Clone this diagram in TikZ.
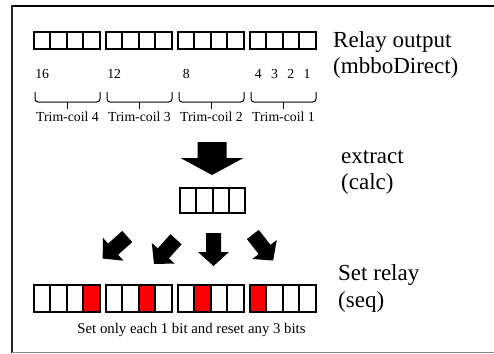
\documentclass[tikz,border=0pt]{standalone}
\usepackage{fontspec}
\setmainfont{Liberation Serif}
\newcommand\bigtxt{\fontsize{23}{26}\selectfont}
\newcommand\smalltxt{\fontsize{13.8}{16}\selectfont}
\newcommand\midtxt{\fontsize{14.8}{17}\selectfont}
\begin{document}
\begin{tikzpicture}[x=1pt,y=-1pt,
  cellline/.style={draw=black, line width=2pt},
  bracel/.style={draw=black, line width=1pt, rounded corners=3pt},
  bigl/.style={anchor=base west, inner sep=0pt, font=\bigtxt},
  numl/.style={anchor=base, inner sep=0pt, font=\smalltxt},
  fatarrow/.pic={\fill[black] (-16.5,-7.5) -- (2.5,-7.5) -- (2.5,-15.5) -- (16.5,0) -- (2.5,15.5) -- (2.5,7.5) -- (-16.5,7.5) -- cycle;}
]
\useasboundingbox (0,0) rectangle (494,353);
\fill[white] (0,0) rectangle (494,353);
% frame
\draw[line width=1.5pt] (10.5,6) -- (494,6);
\draw[line width=2pt,black!85] (11.5,5.3) -- (11.5,353);
\draw[line width=1pt,black!45] (12,352.5) -- (494,352.5);
% top row of relays
\foreach \g in {0,1,2,3}{
  \foreach \c in {0,1,2,3}{
    \draw[cellline] ({34+72*\g+16.375*\c},31.8) rectangle ({34+72*\g+16.375*(\c+1)},49.3);
  }
  \draw[bracel] ({35+72*\g},92) -- ({35+72*\g},102) -- ({100+72*\g},102) -- ({100+72*\g},92);
  \draw[line width=1pt] ({67.5+72*\g},102) -- ({67.5+72*\g},108.5);
}
% bit numbers
\node[numl] (n16) at (42.2,78) {16};
\node[numl] (n12) at (114.2,78) {12};
\node[numl] (n8) at (186.2,78) {8};
\node[numl] (n4) at (258.2,78) {4};
\node[numl] (n3) at (274.5,78) {3};
\node[numl] (n2) at (290.8,78) {2};
\node[numl] (n1) at (307.1,78) {1};
% trim-coil labels
\node[numl] (tc4) at (67.5,121) {Trim-coil 4};
\node[numl] (tc3) at (139.5,121) {Trim-coil 3};
\node[numl] (tc2) at (211.5,121) {Trim-coil 2};
\node[numl] (tc1) at (283.5,121) {Trim-coil 1};
% big arrow
\fill[black] (197.5,142) -- (226.5,142) -- (226.5,158) -- (243.5,158) -- (212,175) -- (180.5,158) -- (197.5,158) -- cycle;
% middle box
\foreach \c in {0,1,2,3}{
  \draw[cellline] ({180+16.25*\c},188) rectangle ({180+16.25*(\c+1)},213);
}
% small arrows
\pic[rotate=-138] at (115,247.5) {fatarrow};
\pic[rotate=-132] at (165,251.5) {fatarrow};
\pic[rotate=-90] at (213.5,249.5) {fatarrow};
\pic[rotate=-52] at (263,247.5) {fatarrow};
% bottom row
\foreach \g in {0,1,2,3}{
  \pgfmathsetmacro\rc{3-\g}
  \fill[red] ({34+72*\g+16.375*\rc},285) rectangle ({34+72*\g+16.375*(\rc+1)},312);
  \foreach \c in {0,1,2,3}{
    \draw[cellline] ({34+72*\g+16.375*\c},285) rectangle ({34+72*\g+16.375*(\c+1)},312);
  }
}
\node[anchor=base, inner sep=0pt, font=\midtxt] (note) at (191.5,333) {Set only each 1 bit and reset any 3 bits};
% right labels
\node[bigl] (ro1) at (333,47) {Relay output};
\node[bigl] (ro2) at (333,73) {(mbboDirect)};
\node[bigl] (ex1) at (341,163) {extract};
\node[bigl] (ex2) at (341,189) {(calc)};
\node[bigl] (sr1) at (338,280) {Set relay};
\node[bigl] (sr2) at (338,307) {(seq)};
\end{tikzpicture}
\end{document}
